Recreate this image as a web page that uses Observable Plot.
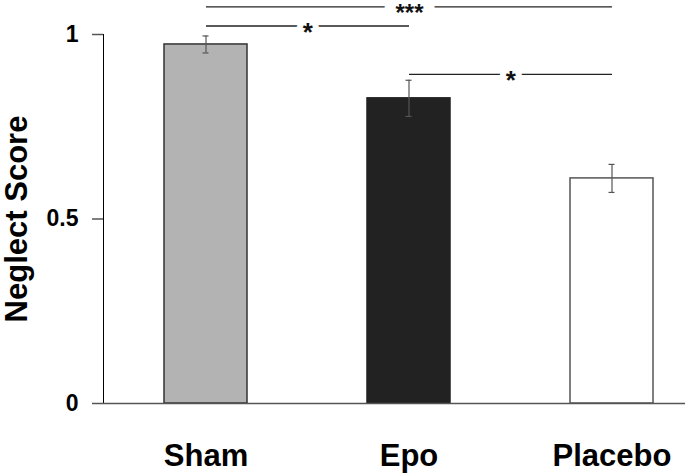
<!DOCTYPE html>
<html><head><meta charset="utf-8">
<script src="https://cdn.jsdelivr.net/npm/d3@7"></script>
<script src="https://cdn.jsdelivr.net/npm/@observablehq/plot@0.6"></script>
<style>
html,body{margin:0;padding:0;background:#fff;}
#chart svg{display:block;}
#chart g[aria-label^="x-axis"] text{font-size:31px;font-weight:bold;fill:#000;}
#chart g[aria-label^="y-axis"] text{font-size:23px;font-weight:bold;fill:#000;}
#chart g[aria-label^="y-axis"] line,#chart g[aria-label^="y-axis"] path{stroke:#555;stroke-width:1.5px;}
</style></head><body><div id="chart"></div>
<script>
const categories = ["Sham", "Epo", "Placebo"];
const means = [0.973, 0.827, 0.610];
const errors = [0.023, 0.049, 0.038];
const barFills = ["#b3b3b3", "#222222", "#ffffff"];
const barStrokes = ["#333333", "#222222", "#555555"];
const yTicks = [0, 0.5, 1];
const bracketFrom = ["Sham", "Sham", "Epo"];
const bracketTo = ["Placebo", "Epo", "Placebo"];
const bracketLevel = [1.075, 1.023, 0.892];
const bracketLabel = ["***", "*", "*"];

const data = categories.map((c, i) => ({name: c, mean: means[i], err: errors[i], fill: barFills[i], stroke: barStrokes[i]}));
const brackets = bracketFrom.map((f, i) => ({from: f, to: bracketTo[i], level: bracketLevel[i], label: bracketLabel[i]}));

const xRange = [103, 714], padIn = 0.592, padOut = 0.297;
const step = (xRange[1] - xRange[0]) / (categories.length - padIn + 2 * padOut);
const font = "'Liberation Sans', Arial, Helvetica, sans-serif";

const starMarks = brackets.map(b => Plot.text([b], {
  x: "from", y: "level", text: "label",
  dx: (categories.indexOf(b.to) - categories.indexOf(b.from)) / 2 * step,
  dy: b.label.length > 1 ? 6 : 6.5, fontSize: b.label.length > 1 ? 24 : 26, fontWeight: "bold", fill: "#111",
  stroke: "white", strokeWidth: b.label.length > 1 ? 22 : 12, paintOrder: "stroke"
}));

const chart = Plot.plot({
  width: 685, height: 474,
  marginLeft: 103, marginRight: 0, marginTop: 34, marginBottom: 71,
  style: {fontFamily: font, background: "white"},
  x: {domain: categories, range: xRange, paddingInner: padIn, paddingOuter: padOut, tickSize: 0, tickPadding: 40, label: null},
  y: {domain: [0, 1], ticks: yTicks, tickFormat: d => String(d), tickSize: 11, tickPadding: 14, line: true, label: null},
  color: {type: "identity"},
  marks: [
    Plot.barY(data, {x: "name", y: "mean", fill: "fill", stroke: "stroke", strokeWidth: 1.5}),
    Plot.ruleX(data, {x: "name", y1: d => d.mean - d.err, y2: d => d.mean + d.err, stroke: "#555", strokeWidth: 1.2}),
    Plot.tickY(data, {x: "name", y: d => d.mean - d.err, stroke: "#555", strokeWidth: 1.2, insetLeft: 38.5, insetRight: 38.5}),
    Plot.tickY(data, {x: "name", y: d => d.mean + d.err, stroke: "#555", strokeWidth: 1.2, insetLeft: 38.5, insetRight: 38.5}),
    Plot.ruleY([0], {stroke: "#555", strokeWidth: 1.5}),
    Plot.link(brackets, {x1: "from", x2: "to", y1: "level", y2: "level", stroke: "#222", strokeWidth: 1.4}),
    ...starMarks,
    Plot.text(["Neglect Score"], {frameAnchor: "left", textAnchor: "middle", rotate: -90, dx: -86, fontSize: 31, fontWeight: "bold", fill: "#000"})
  ]
});
document.getElementById("chart").appendChild(chart);
</script></body></html>
